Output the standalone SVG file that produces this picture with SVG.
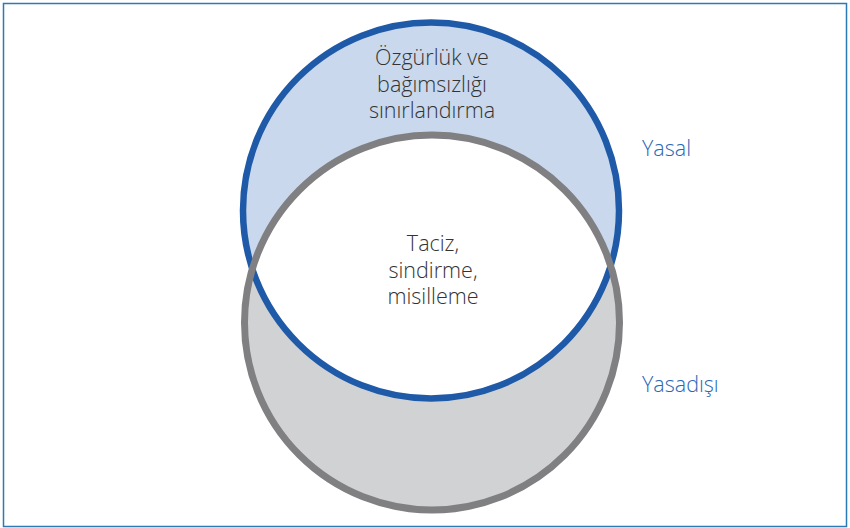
<svg xmlns="http://www.w3.org/2000/svg" width="850" height="528" viewBox="0 0 850 528">
<style>
.lbl{font-family:"Open Sans","Liberation Sans",sans-serif;font-weight:300;font-size:21.5px;fill:#333;text-anchor:middle}
.side{font-family:"Open Sans","Liberation Sans",sans-serif;font-weight:300;font-size:21.5px;fill:#2a68b4}
</style>
<defs>
<clipPath id="clipBlue"><circle cx="431" cy="210.5" r="188"/></clipPath>
</defs>
<rect x="3.5" y="3.5" width="843" height="523" fill="#fff" stroke="#2a7ab8" stroke-width="1.5"/>
<g id="illegal-fill">
<circle cx="432" cy="322.5" r="187.5" fill="#d1d2d4"/>
</g>
<g id="legal-fill">
<circle cx="431" cy="210.5" r="188" fill="#c9d8ec"/>
<circle cx="432" cy="322.5" r="187.5" fill="#fff" clip-path="url(#clipBlue)"/>
</g>
<g id="legal">
<circle cx="431" cy="210.5" r="188" fill="none" stroke="#1f5aa8" stroke-width="6.5"/>
</g>
<g id="illegal">
<circle cx="432" cy="322.5" r="187.5" fill="none" stroke="#808083" stroke-width="7"/>
</g>
<g id="top-text">
<text class="lbl" x="432" y="65">Özgürlük ve</text>
<text class="lbl" x="432" y="91.5">bağımsızlığı</text>
<text class="lbl" x="432" y="118">sınırlandırma</text>
</g>
<g id="center-text">
<text class="lbl" x="433" y="251">Taciz,</text>
<text class="lbl" x="433" y="277.5">sindirme,</text>
<text class="lbl" x="433" y="304">misilleme</text>
</g>
<g id="label-yasal"><text class="side" x="642" y="156">Yasal</text></g>
<g id="label-yasadisi"><text class="side" x="642" y="392">Yasadışı</text></g>
</svg>
